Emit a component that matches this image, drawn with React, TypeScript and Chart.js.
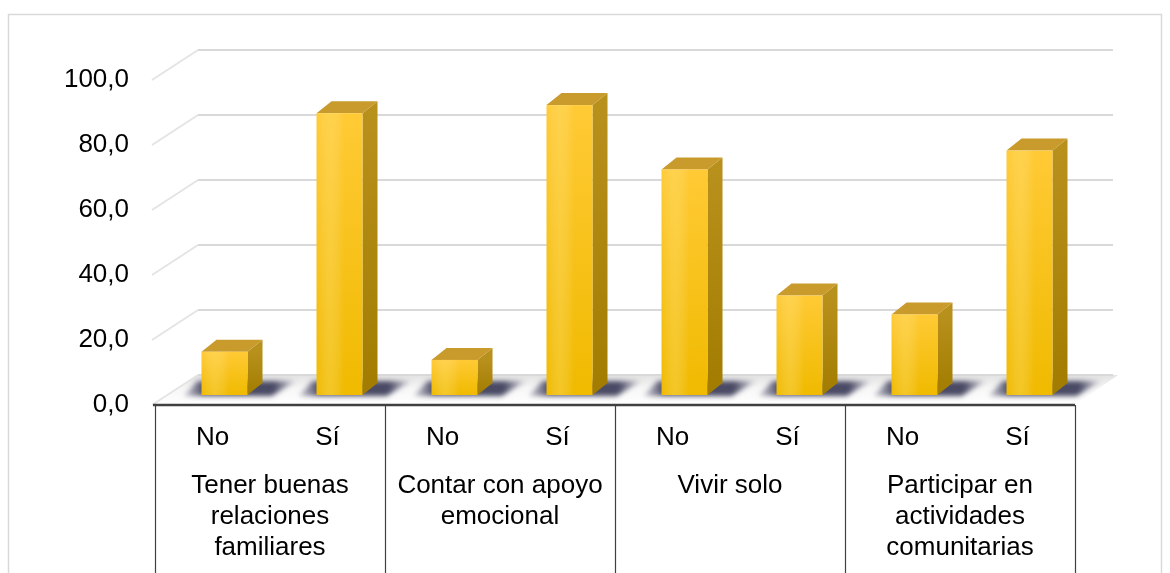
import React, { useEffect, useRef } from "react";
import { Chart, registerables } from "chart.js";

Chart.register(...registerables);

// ---- Data ----
const subLabels = ["No", "Sí", "No", "Sí", "No", "Sí", "No", "Sí"];
const groupLabels = [
  ["Tener buenas", "relaciones", "familiares"],
  ["Contar con apoyo", "emocional"],
  ["Vivir solo"],
  ["Participar en", "actividades", "comunitarias"],
];
const values = [13.3, 86.7, 10.8, 89.2, 69.4, 30.6, 24.8, 75.2];
const yTicks = [0, 20, 40, 60, 80, 100];

const FONT = '"Liberation Sans", Arial, sans-serif';
const W = 1170;
const H = 573;

// 3D geometry (pixels)
const WALL_DX = 43;
const WALL_DY = 30;
const BAR_OX = 12;
const BAR_OY = 10;
const BAR_DX = 15;
const BAR_DY = 12;

const threeD = {
  id: "threeD",
  beforeDraw(chart: any) {
    const ctx = chart.ctx;
    ctx.save();
    ctx.strokeStyle = "#d9d9d9";
    ctx.lineWidth = 1.5;
    ctx.strokeRect(8.5, 14.5, 1153, 700);
    ctx.restore();
  },
  beforeDatasetsDraw(chart: any) {
    const ctx = chart.ctx;
    const x = chart.scales.x;
    const y = chart.scales.y;
    const left = x.left;
    const right = x.right;
    const y0 = y.getPixelForValue(0);
    ctx.save();
    // floor
    ctx.beginPath();
    ctx.moveTo(left, y0);
    ctx.lineTo(right, y0);
    ctx.lineTo(right + WALL_DX, y0 - WALL_DY);
    ctx.lineTo(left + WALL_DX, y0 - WALL_DY);
    ctx.closePath();
    const fg = ctx.createLinearGradient(0, y0 - WALL_DY, 0, y0);
    fg.addColorStop(0, "#e2e2e2");
    fg.addColorStop(0.45, "#f7f7f7");
    fg.addColorStop(1, "#ffffff");
    ctx.fillStyle = fg;
    ctx.fill();
    // grid lines (side wall + back wall)
    ctx.lineWidth = 2;
    yTicks.forEach((v) => {
      const py = y.getPixelForValue(v);
      ctx.strokeStyle = "#e4e4e4";
      ctx.beginPath();
      ctx.moveTo(left - 3, py);
      ctx.lineTo(left + WALL_DX, py - WALL_DY);
      ctx.stroke();
      ctx.strokeStyle = "#d9d9d9";
      ctx.beginPath();
      ctx.moveTo(left + WALL_DX, py - WALL_DY);
      ctx.lineTo(right + WALL_DX - 5, py - WALL_DY);
      ctx.stroke();
    });
    // shadows
    const meta = chart.getDatasetMeta(0);
    meta.data.forEach((el: any) => {
      const w = el.width;
      const x0 = el.x - w / 2 + BAR_OX;
      const x1 = x0 + w;
      const yb = el.base - BAR_OY;
      ctx.save();
      ctx.filter = "blur(2.5px)";
      ctx.beginPath();
      ctx.moveTo(x0 - 18, yb + 1);
      ctx.lineTo(x1 + 24, yb + 1);
      ctx.lineTo(x1 + BAR_DX + 34, yb - 14);
      ctx.lineTo(x0 - 4, yb - 14);
      ctx.closePath();
      const sg = ctx.createLinearGradient(x0 - 18, 0, x1 + BAR_DX + 34, 0);
      sg.addColorStop(0, "rgba(70,70,100,0.2)");
      sg.addColorStop(0.18, "rgba(55,55,85,0.9)");
      sg.addColorStop(0.8, "rgba(55,55,85,0.9)");
      sg.addColorStop(1, "rgba(70,70,100,0.1)");
      ctx.fillStyle = sg;
      ctx.fill();
      ctx.restore();
    });
    ctx.restore();
  },
  afterDatasetsDraw(chart: any) {
    const ctx = chart.ctx;
    const meta = chart.getDatasetMeta(0);
    ctx.save();
    meta.data.forEach((el: any) => {
      const w = el.width;
      const x0 = el.x - w / 2 + BAR_OX;
      const x1 = x0 + w;
      const yt = el.y - BAR_OY;
      const yb = el.base - BAR_OY;
      // side
      ctx.beginPath();
      ctx.moveTo(x1, yt);
      ctx.lineTo(x1 + BAR_DX, yt - BAR_DY);
      ctx.lineTo(x1 + BAR_DX, yb - BAR_DY);
      ctx.lineTo(x1, yb);
      ctx.closePath();
      const sg = ctx.createLinearGradient(0, yt, 0, yb);
      sg.addColorStop(0, "#b8901c");
      sg.addColorStop(1, "#a27c00");
      ctx.fillStyle = sg;
      ctx.fill();
      // top
      ctx.beginPath();
      ctx.moveTo(x0, yt);
      ctx.lineTo(x0 + BAR_DX, yt - BAR_DY);
      ctx.lineTo(x1 + BAR_DX, yt - BAR_DY);
      ctx.lineTo(x1, yt);
      ctx.closePath();
      ctx.fillStyle = "#c99a2c";
      ctx.fill();
      // front
      const g = ctx.createLinearGradient(0, yt, 0, yb);
      g.addColorStop(0, "#ffca35");
      g.addColorStop(1, "#f0ba00");
      ctx.fillStyle = g;
      ctx.fillRect(x0, yt, w, yb - yt);
      const hg = ctx.createLinearGradient(x0, 0, x1, 0);
      hg.addColorStop(0, "rgba(255,255,255,0)");
      hg.addColorStop(0.3, "rgba(255,235,150,0.25)");
      hg.addColorStop(0.6, "rgba(255,255,255,0)");
      ctx.fillStyle = hg;
      ctx.fillRect(x0, yt, w, yb - yt);
    });
    ctx.restore();
  },
  afterDraw(chart: any) {
    const ctx = chart.ctx;
    const x = chart.scales.x;
    const y = chart.scales.y;
    const y0 = y.getPixelForValue(0);
    const slot = (x.right - x.left) / subLabels.length;
    ctx.save();
    // front axis
    ctx.strokeStyle = "#404040";
    ctx.lineWidth = 2.5;
    ctx.beginPath();
    ctx.moveTo(x.left - 2, y0);
    ctx.lineTo(x.right, y0);
    ctx.stroke();
    // dividers
    ctx.lineWidth = 1.2;
    for (let g = 0; g <= groupLabels.length; g++) {
      const px = Math.round(x.getPixelForValue(g * 2) - slot / 2) + 0.5;
      ctx.beginPath();
      ctx.moveTo(px, y0);
      ctx.lineTo(px, H);
      ctx.stroke();
    }
    // labels
    ctx.fillStyle = "#000";
    ctx.font = `26px ${FONT}`;
    ctx.textAlign = "center";
    ctx.textBaseline = "middle";
    subLabels.forEach((lab, i) => {
      ctx.fillText(lab, x.getPixelForValue(i), 438);
    });
    groupLabels.forEach((lines, g) => {
      const cx = (x.getPixelForValue(g * 2) + x.getPixelForValue(g * 2 + 1)) / 2;
      lines.forEach((ln, j) => {
        ctx.fillText(ln, cx, 486 + j * 31);
      });
    });
    ctx.restore();
  },
};

export default function App() {
  const ref = useRef<HTMLCanvasElement | null>(null);
  useEffect(() => {
    document.body.style.margin = "0";
    const canvas = ref.current;
    if (!canvas) return;
    const chart = new Chart(canvas, {
      type: "bar",
      data: {
        labels: subLabels,
        datasets: [
          {
            data: values,
            backgroundColor: "rgba(0,0,0,0)",
            borderWidth: 0,
            barPercentage: 0.4,
            categoryPercentage: 1,
          },
        ],
      },
      options: {
        animation: false,
        responsive: false,
        devicePixelRatio: 1,
        layout: { padding: { top: 80, bottom: 168, left: 0, right: 95 } },
        plugins: { legend: { display: false }, tooltip: { enabled: false } },
        scales: {
          x: { display: false, offset: true },
          y: {
            min: 0,
            max: 100,
            afterFit: (s: any) => {
              s.width = 155;
            },
            ticks: {
              stepSize: 20,
              padding: 26,
              color: "#000",
              font: { family: FONT, size: 26 },
              callback: (v: any) => Number(v).toFixed(1).replace(".", ","),
            },
            grid: { display: false, drawTicks: false },
            border: { display: false },
          },
        },
      },
      plugins: [threeD],
    });
    return () => chart.destroy();
  }, []);
  return (
    <canvas
      ref={ref}
      width={W}
      height={H}
      style={{ display: "block", width: W, height: H }}
    />
  );
}
